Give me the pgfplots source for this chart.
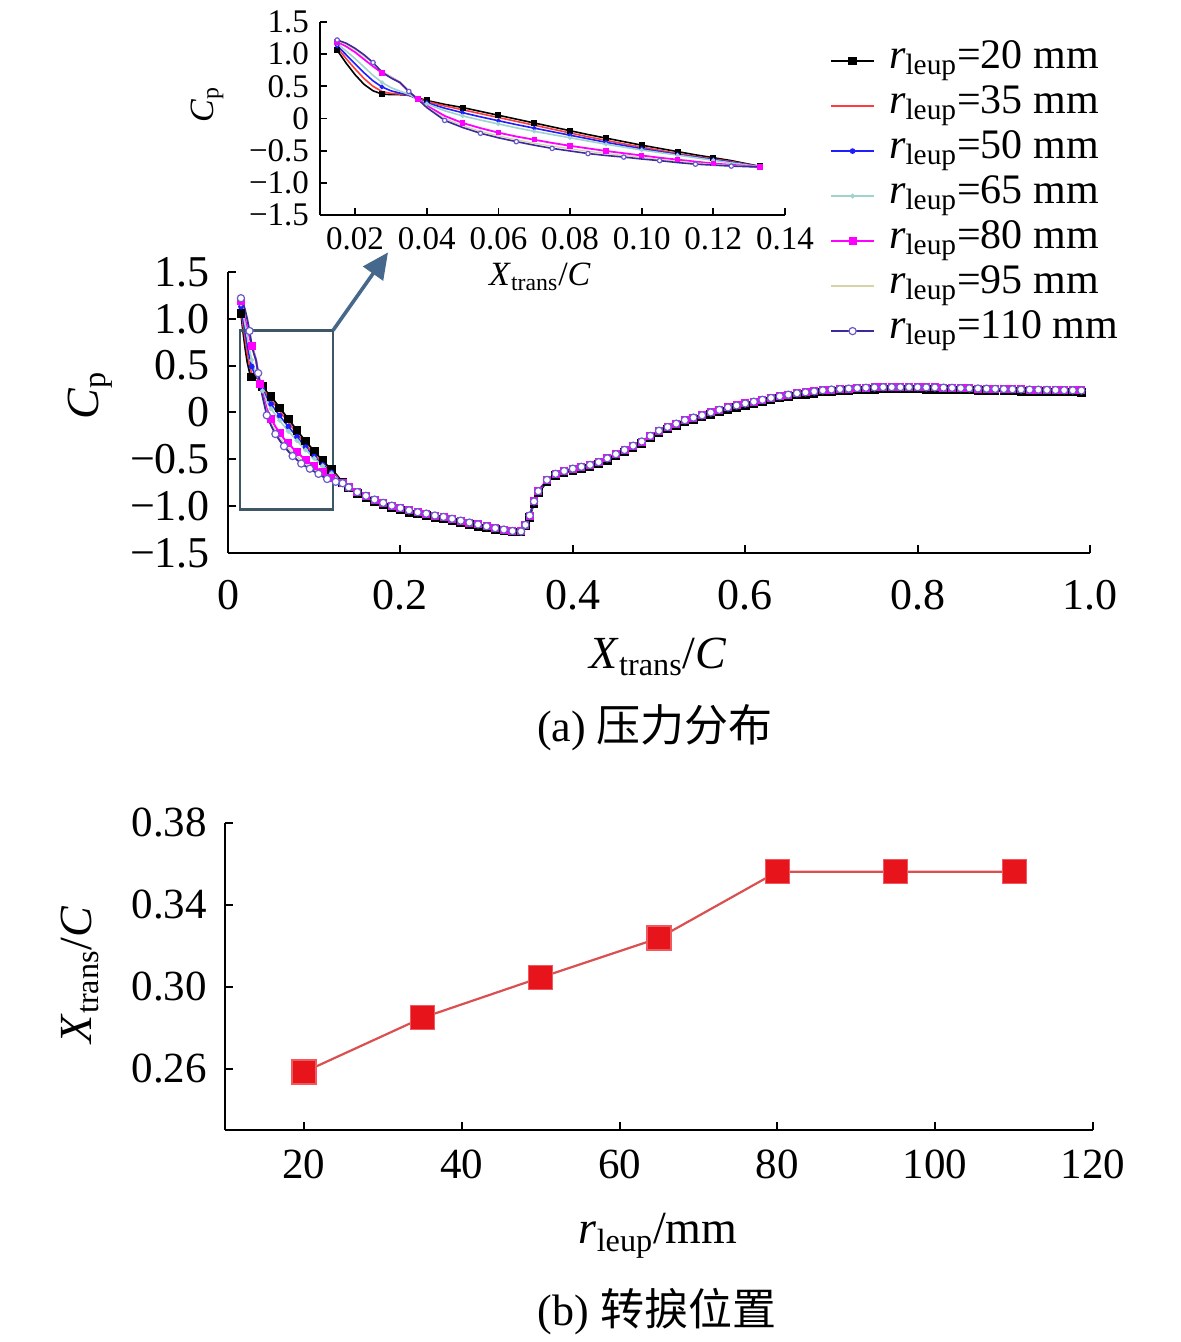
\documentclass[border=0pt]{standalone}
\usepackage{fontspec}
\setmainfont{Liberation Serif}
\newfontfamily\cjk{Noto Sans CJK SC}
\usepackage{pgfplots}
\pgfplotsset{compat=1.18}
\usepackage{pgfplotstable}
\usetikzlibrary{arrows.meta}

\definecolor{c35}{HTML}{FF3B3B}
\definecolor{c50}{HTML}{1E1EFF}
\definecolor{c65}{HTML}{9FD3CC}
\definecolor{c80}{HTML}{FF00FF}
\definecolor{c95}{HTML}{D6D3A6}
\definecolor{c110}{HTML}{3A2A9C}
\definecolor{c110m}{HTML}{6A5CC8}
\definecolor{boxc}{HTML}{3E5666}
\definecolor{arrc}{HTML}{46688C}
\definecolor{bred}{HTML}{E8141C}
\definecolor{bline}{HTML}{DA4F4F}

\pgfplotstableread{
x s20 s35 s50 s65 s80 s95 s110
0.015 1.06 1.10 1.13 1.16 1.19 1.21 1.22
0.0175 0.86 0.93 0.99 1.05 1.12 1.15 1.17
0.02 0.68 0.77 0.85 0.93 1.03 1.07 1.09
0.0225 0.53 0.62 0.71 0.80 0.92 0.97 0.99
0.025 0.43 0.50 0.585 0.67 0.81 0.86 0.87
0.0275 0.38 0.42 0.49 0.56 0.71 0.74 0.72
0.03 0.37 0.39 0.43 0.48 0.645 0.65 0.63
0.0325 0.37 0.38 0.395 0.425 0.56 0.57 0.56
0.035 0.36 0.36 0.365 0.375 0.42 0.43 0.42
0.0375 0.32 0.31 0.30 0.30 0.30 0.30 0.30
0.04 0.28 0.265 0.245 0.23 0.20 0.18 0.17
0.045 0.22 0.195 0.16 0.12 0.04 0.00 -0.03
0.05 0.17 0.135 0.09 0.04 -0.07 -0.11 -0.14
0.055 0.11 0.075 0.025 -0.025 -0.15 -0.20 -0.23
0.06 0.05 0.015 -0.035 -0.085 -0.22 -0.27 -0.30
0.065 -0.01 -0.045 -0.095 -0.145 -0.28 -0.33 -0.36
0.07 -0.07 -0.105 -0.15 -0.20 -0.33 -0.385 -0.415
0.075 -0.13 -0.165 -0.205 -0.25 -0.38 -0.43 -0.465
0.08 -0.19 -0.225 -0.26 -0.30 -0.425 -0.47 -0.505
0.085 -0.25 -0.285 -0.315 -0.35 -0.465 -0.51 -0.545
0.09 -0.305 -0.34 -0.37 -0.40 -0.505 -0.545 -0.575
0.095 -0.36 -0.395 -0.42 -0.445 -0.54 -0.575 -0.60
0.10 -0.415 -0.445 -0.47 -0.49 -0.575 -0.605 -0.63
0.105 -0.465 -0.495 -0.515 -0.53 -0.61 -0.635 -0.655
0.11 -0.515 -0.545 -0.56 -0.57 -0.64 -0.665 -0.685
0.115 -0.565 -0.59 -0.60 -0.61 -0.67 -0.69 -0.71
0.12 -0.61 -0.63 -0.64 -0.65 -0.70 -0.715 -0.725
0.125 -0.655 -0.67 -0.68 -0.69 -0.72 -0.73 -0.74
0.133 -0.745 -0.75 -0.75 -0.75 -0.755 -0.755 -0.755
}\head

\pgfplotstableread{
x yA yB
0.133 -0.755 -0.745
0.14 -0.80 -0.805
0.15 -0.85 -0.865
0.16 -0.89 -0.91
0.17 -0.93 -0.95
0.18 -0.965 -0.985
0.19 -0.995 -1.015
0.20 -1.02 -1.04
0.21 -1.045 -1.065
0.22 -1.065 -1.085
0.23 -1.08 -1.10
0.24 -1.10 -1.12
0.25 -1.115 -1.135
0.26 -1.135 -1.155
0.27 -1.155 -1.175
0.28 -1.175 -1.195
0.29 -1.195 -1.215
0.30 -1.215 -1.235
0.31 -1.235 -1.25
0.32 -1.25 -1.265
0.33 -1.265 -1.275
0.34 -1.27 -1.275
0.345 -1.20 -1.21
0.35 -1.10 -1.12
0.355 -0.95 -0.97
0.36 -0.84 -0.86
0.37 -0.72 -0.74
0.38 -0.655 -0.675
0.39 -0.625 -0.645
0.40 -0.60 -0.62
0.41 -0.58 -0.60
0.42 -0.56 -0.58
0.43 -0.53 -0.55
0.44 -0.49 -0.51
0.45 -0.445 -0.465
0.46 -0.40 -0.42
0.47 -0.355 -0.375
0.48 -0.31 -0.33
0.49 -0.25 -0.27
0.50 -0.195 -0.215
0.51 -0.155 -0.175
0.52 -0.12 -0.14
0.53 -0.082 -0.102
0.54 -0.055 -0.075
0.55 -0.03 -0.05
0.56 0.00 -0.02
0.57 0.028 0.008
0.58 0.054 0.034
0.59 0.075 0.055
0.60 0.096 0.076
0.61 0.115 0.095
0.62 0.135 0.115
0.63 0.155 0.135
0.64 0.173 0.153
0.65 0.19 0.17
0.66 0.205 0.185
0.67 0.215 0.195
0.68 0.225 0.205
0.69 0.237 0.217
0.70 0.245 0.225
0.71 0.25 0.23
0.72 0.255 0.235
0.73 0.26 0.24
0.74 0.264 0.244
0.75 0.267 0.247
0.76 0.27 0.25
0.77 0.27 0.25
0.78 0.27 0.25
0.79 0.27 0.25
0.80 0.27 0.25
0.81 0.268 0.248
0.82 0.267 0.247
0.83 0.265 0.245
0.84 0.263 0.243
0.85 0.26 0.24
0.86 0.258 0.238
0.87 0.256 0.236
0.88 0.254 0.234
0.89 0.252 0.232
0.90 0.25 0.23
0.91 0.248 0.228
0.92 0.246 0.226
0.93 0.244 0.224
0.94 0.243 0.223
0.95 0.241 0.221
0.96 0.24 0.22
0.97 0.238 0.218
0.98 0.237 0.217
0.99 0.235 0.215
}\tail

\pgfplotstableread{
r xt
20 0.2583
35 0.2848
50 0.3045
65 0.3238
80 0.3562
95 0.3562
110 0.3562
}\trans

\pgfplotsset{
  st20/.style={color=black, line width=0.9pt, mark=square*, mark size=#1, mark options={solid, fill=black, draw=black}},
  st35/.style={color=c35, line width=0.8pt},
  st50/.style={color=c50, line width=0.8pt, mark=*, mark size=#1, mark options={fill=c50, draw=c50}},
  st65/.style={color=c65, line width=0.8pt, mark=*, mark size=#1, mark options={fill=c65, draw=c65}},
  st80/.style={color=c80, line width=1pt, mark=square*, mark size=#1, mark options={fill=c80, draw=c80}},
  st95/.style={color=c95, line width=0.7pt},
  st110/.style={color=c110, line width=0.9pt, mark=*, mark size=#1, mark options={fill=white, draw=c110m, line width=0.6pt}},
}

\newcommand{\rl}{\textit{r}\textsubscript{leup}}
\newcommand{\xc}{\textit{X}\textsubscript{trans}/\textit{C}}

\begin{document}
\begin{tikzpicture}
\useasboundingbox (0,0) rectangle (590.5pt,671pt);

% ---------------- main axis (a) ----------------
\begin{axis}[
  at={(114pt,394.5pt)}, anchor=south west,
  width=431pt, height=140.5pt, scale only axis,
  xmin=0, xmax=1, ymin=-1.5, ymax=1.5,
  axis lines*=left, axis line style={line width=1.2pt},
  tick align=inside, major tick length=4pt, tick style={line width=1pt, black},
  xtick={0,0.2,0.4,0.6,0.8,1.0}, xticklabels={0,0.2,0.4,0.6,0.8,1.0},
  ytick={-1.5,-1,-0.5,0,0.5,1,1.5}, yticklabels={−1.5,−1.0,−0.5,0,0.5,1.0,1.5},
  ticklabel style={font=\fontsize{22}{24}\selectfont},
  xticklabel style={yshift=-10pt}, yticklabel style={xshift=-5.5pt},
  xlabel={\xc}, ylabel={\textit{C}\textsubscript{p}},
  xlabel style={at={(axis description cs:0.499,-0.37)}, anchor=center, font=\fontsize{23}{26}\selectfont},
  ylabel style={at={(axis description cs:-0.16,0.562)}, anchor=center, font=\fontsize{23}{26}\selectfont},
  clip=false,
  legend image code/.code={\draw[#1, mark indices={2}] plot coordinates {(0pt,0pt) (10.75pt,0pt) (21.5pt,0pt)};},
  legend style={draw=none, fill=none, at={(axis description cs:0.698,1.832)}, anchor=north west,
    font=\fontsize{21}{24}\selectfont, inner sep=0pt, row sep=0pt,
    nodes={inner sep=1pt, text height=14pt, text depth=6.5pt},
    /tikz/every odd column/.append style={column sep=6pt}},
  legend cell align=left,
]
\addplot[st20=1.7pt, mark indices={1,6,11,13,15,17,19,21,23,25,27,29}] table[x=x,y=s20]{\head};
\addlegendentry{\rl=20 mm}
\addplot[st20=1.7pt, forget plot] table[x=x,y=yB]{\tail};

\addplot[st35] table[x=x,y=s35]{\head};
\addlegendentry{\rl=35 mm}
\addplot[st35, forget plot] table[x=x,y=yA]{\tail};

\addplot[st50=1pt, mark indices={1,6,11,13,15,17,19,21,23,25,27,29}] table[x=x,y=s50]{\head};
\addlegendentry{\rl=50 mm}
\addplot[st50=1pt, forget plot] table[x=x,y=yA]{\tail};

\addplot[st65=0.8pt, mark indices={1,6,11,13,15,17,19,21,23,25,27,29}] table[x=x,y=s65]{\head};
\addlegendentry{\rl=65 mm}
\addplot[st65=0.8pt, forget plot] table[x=x,y=yA]{\tail};

\addplot[st80=1.5pt, mark indices={1,6,10,13,15,17,19,21,23,25,27,29}] table[x=x,y=s80]{\head};
\addlegendentry{\rl=80 mm}
\addplot[st80=1.5pt, forget plot] table[x=x,y=yA]{\tail};

\addplot[st95] table[x=x,y=s95]{\head};
\addlegendentry{\rl=95 mm}
\addplot[st95, forget plot] table[x=x,y=yA]{\tail};

\addplot[st110=1.8pt, mark indices={1,5,9,12,14,16,18,20,22,24,26,28}] table[x=x,y=s110]{\head};
\addlegendentry{\rl=110 mm}
\addplot[st110=1.8pt, forget plot] table[x=x,y=yA]{\tail};

\draw[boxc, line width=1.3pt] (axis cs:0.0139,-1.036) rectangle (axis cs:0.1218,0.876);
\draw[arrc, line width=1.8pt, -{Triangle[length=13pt,width=12pt]}] (axis cs:0.1218,0.876) -- (axis cs:0.1856,1.709);
\end{axis}

% ---------------- inset ----------------
\begin{axis}[
  at={(160pt,563.5pt)}, anchor=south west,
  width=232.5pt, height=96.5pt, scale only axis,
  xmin=0.0102, xmax=0.14, ymin=-1.5, ymax=1.5,
  axis lines*=left, axis line style={line width=1pt},
  tick align=inside, major tick length=3.5pt, tick style={line width=0.9pt, black},
  xtick={0.02,0.04,0.06,0.08,0.10,0.12,0.14}, xticklabels={0.02,0.04,0.06,0.08,0.10,0.12,0.14},
  ytick={-1.5,-1,-0.5,0,0.5,1,1.5}, yticklabels={−1.5,−1.0,−0.5,0,0.5,1.0,1.5},
  ticklabel style={font=\fontsize{16.5}{18}\selectfont},
  xticklabel style={yshift=-3pt}, yticklabel style={xshift=-2pt},
  xlabel={\xc}, ylabel={\textit{C}\textsubscript{p}},
  xlabel style={at={(axis description cs:0.473,-0.32)}, anchor=center, font=\fontsize{17}{19}\selectfont},
  ylabel style={at={(axis description cs:-0.243,0.57)}, anchor=center, font=\fontsize{17}{19}\selectfont},
]
\addplot[st20=1.1pt, line width=0.8pt, mark indices={1,6,11,13,15,17,19,21,23,25,27,29}] table[x=x,y=s20]{\head};
\addplot[st35, line width=0.8pt] table[x=x,y=s35]{\head};
\addplot[st50=0.7pt, line width=0.8pt, mark indices={1,6,11,13,15,17,19,21,23,25,27,29}] table[x=x,y=s50]{\head};
\addplot[st65=0.6pt, line width=0.8pt, mark indices={1,6,11,13,15,17,19,21,23,25,27,29}] table[x=x,y=s65]{\head};
\addplot[st80=0.9pt, line width=0.9pt, mark indices={1,6,10,13,15,17,19,21,23,25,27,29}] table[x=x,y=s80]{\head};
\addplot[st95, line width=0.6pt] table[x=x,y=s95]{\head};
\addplot[st110=1.1pt, line width=0.8pt, mark indices={1,5,9,12,14,16,18,20,22,24,26,28}] table[x=x,y=s110]{\head};
\end{axis}

% ---------------- bottom axis (b) ----------------
\begin{axis}[
  at={(112.5pt,106pt)}, anchor=south west,
  width=434pt, height=153.5pt, scale only axis,
  xmin=10, xmax=120, ymin=0.23, ymax=0.38,
  axis lines*=left, axis line style={line width=1.2pt},
  tick align=inside, major tick length=4pt, tick style={line width=1pt, black},
  xtick={20,40,60,80,100,120}, xticklabels={20,40,60,80,100,120},
  ytick={0.26,0.30,0.34,0.38}, yticklabels={0.26,0.30,0.34,0.38},
  ticklabel style={font=\fontsize{21.5}{24}\selectfont},
  xticklabel style={yshift=-6.5pt}, yticklabel style={xshift=-5.5pt},
  xlabel={\rl/mm}, ylabel={\xc},
  xlabel style={at={(axis description cs:0.499,-0.345)}, anchor=center, font=\fontsize{23}{26}\selectfont},
  ylabel style={at={(axis description cs:-0.167,0.505)}, anchor=center, font=\fontsize{23}{26}\selectfont},
  clip=false,
]
\addplot[color=bline, line width=1.1pt, mark=square*, mark size=6pt, mark options={fill=bred, draw=bred!70!white, line width=0.6pt}] table[x=r,y=xt]{\trans};
\end{axis}

\node[font=\fontsize{22}{26}\selectfont] at (327.5pt,307pt) {(a) {\cjk 压力分布}};
\node[font=\fontsize{22}{26}\selectfont] at (328.5pt,15pt) {(b) {\cjk 转捩位置}};
\end{tikzpicture}
\end{document}
